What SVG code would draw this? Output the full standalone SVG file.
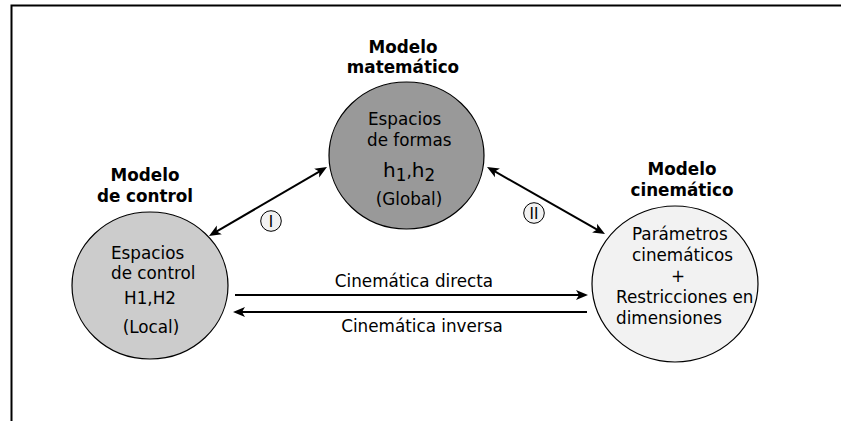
<svg xmlns="http://www.w3.org/2000/svg" width="841" height="421" viewBox="0 0 841 421">
<defs>
<style>
text{font-family:"DejaVu Sans","Liberation Sans",sans-serif;font-size:16.8px;fill:#000}
.t{font-weight:bold;text-anchor:middle}
.c{text-anchor:middle}
.node{stroke:#000;stroke-width:1.2}
.arr{stroke:#000;stroke-width:2;fill:none}
.lab{fill:#f2f2f2;stroke:#000;stroke-width:1}
</style>
<marker id="ah" markerUnits="userSpaceOnUse" markerWidth="14" markerHeight="12" refX="4" refY="6" orient="auto-start-reverse" viewBox="0 0 14 12">
<path d="M0,1 L12,6 L0,11 L3,6 z" fill="#000"/>
</marker>
</defs>
<rect width="841" height="421" fill="#fff"/>
<path d="M11.5,421 V5.5 H841" fill="none" stroke="#000" stroke-width="2"/>

<g id="connectors">
<line class="arr" x1="215.9" y1="231.96" x2="320.1" y2="171.04" marker-start="url(#ah)" marker-end="url(#ah)"/>
<line class="arr" x1="493.96" y1="170.95" x2="598.04" y2="230.05" marker-start="url(#ah)" marker-end="url(#ah)"/>
<line class="arr" x1="235" y1="295" x2="580" y2="295" marker-end="url(#ah)"/>
<line class="arr" x1="587" y1="312" x2="241" y2="312" marker-end="url(#ah)"/>
<text class="c" x="414" y="287">Cinemática directa</text>
<text class="c" x="422" y="332">Cinemática inversa</text>
<circle class="lab" cx="271" cy="221" r="10.3"/>
<text class="c" x="271" y="227" style="font-size:15px">I</text>
<circle class="lab" cx="534" cy="213" r="10.3"/>
<text class="c" x="534" y="219" style="font-size:15px">II</text>
</g>

<g id="math">
<text class="t" x="403" y="53">Modelo</text>
<text class="t" x="403" y="73">matemático</text>
<ellipse class="node" cx="406.5" cy="155.5" rx="77.5" ry="73.5" fill="#999999"/>
<text x="368" y="125">Espacios</text>
<text x="367" y="146">de formas</text>
<text x="383" y="176.5"><tspan style="font-size:20px">h</tspan><tspan dy="4">1</tspan><tspan dy="-4">,</tspan><tspan style="font-size:20px">h</tspan><tspan dy="4">2</tspan></text>
<text class="c" x="409" y="205">(Global)</text>
</g>

<g id="control">
<text class="t" x="145" y="181">Modelo</text>
<text class="t" x="145" y="202">de control</text>
<ellipse class="node" cx="150" cy="285.5" rx="78" ry="73.5" fill="#cccccc"/>
<text x="111" y="259">Espacios</text>
<text x="111" y="279">de control</text>
<text class="c" x="150" y="304">H1,H2</text>
<text class="c" x="151" y="333">(Local)</text>
</g>

<g id="kinematic">
<text class="t" x="682" y="175">Modelo</text>
<text class="t" x="682" y="196">cinemático</text>
<ellipse class="node" cx="675" cy="284" rx="83" ry="78" fill="#f2f2f2"/>
<text x="632" y="240">Parámetros</text>
<text x="632" y="261">cinemáticos</text>
<text class="c" x="678" y="282">+</text>
<text x="616" y="303">Restricciones en</text>
<text x="616" y="324">dimensiones</text>
</g>
</svg>
